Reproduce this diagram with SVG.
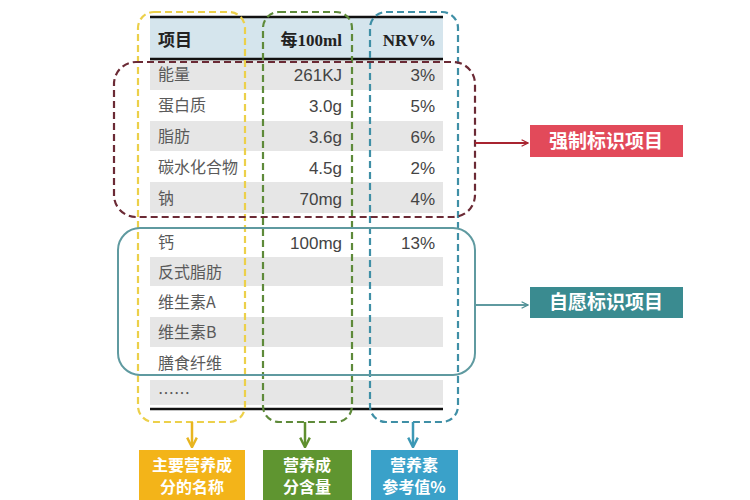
<svg xmlns="http://www.w3.org/2000/svg" width="750" height="500" viewBox="0 0 750 500">
<defs>
<style>
.cn{font-family:"Noto Sans CJK SC","Noto Sans",sans-serif;font-size:16px;fill:#5a5a5a}
.num{font-family:"Liberation Sans","Noto Sans CJK SC",sans-serif;font-size:17px;fill:#444;text-anchor:end}
.hd{font-family:"Liberation Serif","Noto Sans CJK SC",serif;font-size:17px;font-weight:bold;fill:#222}
.gray{fill:#e6e6e6}
.lbl{font-family:"Noto Sans CJK SC",sans-serif;font-size:16px;font-weight:bold;fill:#fff;text-anchor:middle}
.big{font-size:19px}
.dash{fill:none;stroke-width:2.2;stroke-dasharray:7 4}
</style>
<marker id="aR" viewBox="0 0 10 10" refX="9" refY="5" markerWidth="8" markerHeight="8" orient="auto" markerUnits="userSpaceOnUse"><path d="M1,1 L9,5 L1,9" fill="none" stroke="#a82430" stroke-width="1.6"/></marker>
<marker id="aT" viewBox="0 0 10 10" refX="9" refY="5" markerWidth="8" markerHeight="8" orient="auto" markerUnits="userSpaceOnUse"><path d="M1,1 L9,5 L1,9" fill="none" stroke="#4d8e93" stroke-width="1.6"/></marker>
<marker id="aY" viewBox="0 0 10 10" refX="8" refY="5" markerWidth="12" markerHeight="12" orient="auto" markerUnits="userSpaceOnUse"><path d="M1,1 L9,5 L1,9" fill="none" stroke="#e8b520" stroke-width="2"/></marker>
<marker id="aG" viewBox="0 0 10 10" refX="8" refY="5" markerWidth="12" markerHeight="12" orient="auto" markerUnits="userSpaceOnUse"><path d="M1,1 L9,5 L1,9" fill="none" stroke="#5f8f2e" stroke-width="2"/></marker>
<marker id="aB" viewBox="0 0 10 10" refX="8" refY="5" markerWidth="12" markerHeight="12" orient="auto" markerUnits="userSpaceOnUse"><path d="M1,1 L9,5 L1,9" fill="none" stroke="#3c98b5" stroke-width="2"/></marker>
</defs>
<rect width="750" height="500" fill="#fff"/>

<g id="table">
<rect x="150" y="18" width="293" height="41" fill="#d5e5ed"/>
<rect class="gray" x="150" y="59" width="293" height="31"/>
<rect class="gray" x="150" y="121" width="293" height="30"/>
<rect class="gray" x="150" y="182" width="293" height="31"/>
<rect class="gray" x="150" y="257" width="293" height="29"/>
<rect class="gray" x="150" y="317" width="293" height="30"/>
<rect class="gray" x="150" y="380" width="293" height="25"/>
<line x1="150" y1="17" x2="443" y2="17" stroke="#111" stroke-width="2.5"/>
<line x1="150" y1="59" x2="443" y2="59" stroke="#111" stroke-width="2.5"/>
<line x1="150" y1="409" x2="443" y2="409" stroke="#111" stroke-width="2.5"/>
<text class="hd" x="158" y="46" font-family="Noto Sans CJK SC">项目</text>
<text class="hd" x="342" y="46" text-anchor="end">每100ml</text>
<text class="hd" x="436" y="46" text-anchor="end">NRV%</text>
<text class="cn" x="158" y="80">能量</text><text class="num" x="342" y="81">261KJ</text><text class="num" x="435" y="81">3%</text>
<text class="cn" x="158" y="111">蛋白质</text><text class="num" x="342" y="112">3.0g</text><text class="num" x="435" y="112">5%</text>
<text class="cn" x="158" y="142">脂肪</text><text class="num" x="342" y="143">3.6g</text><text class="num" x="435" y="143">6%</text>
<text class="cn" x="158" y="173">碳水化合物</text><text class="num" x="342" y="174">4.5g</text><text class="num" x="435" y="174">2%</text>
<text class="cn" x="158" y="204">钠</text><text class="num" x="342" y="205">70mg</text><text class="num" x="435" y="205">4%</text>
<text class="cn" x="158" y="248">钙</text><text class="num" x="342" y="249">100mg</text><text class="num" x="435" y="249">13%</text>
<text class="cn" x="158" y="278">反式脂肪</text>
<text class="cn" x="158" y="308">维生素A</text>
<text class="cn" x="158" y="338">维生素B</text>
<text class="cn" x="158" y="369">膳食纤维</text>
<text class="cn" x="158" y="399">……</text>
</g>

<g id="col-name"><rect class="dash" x="138" y="12" width="107" height="410" rx="16" stroke="#ecd04a"/></g>
<g id="col-amount"><rect class="dash" x="263" y="12" width="89" height="410" rx="16" stroke="#5e8a3a"/></g>
<g id="col-nrv"><rect class="dash" x="370" y="12" width="88" height="410" rx="16" stroke="#3f8fa6"/></g>
<g id="mandatory-group"><rect class="dash" x="114" y="62" width="361" height="155" rx="22" stroke="#6b2a35"/></g>
<g id="voluntary-group"><rect x="118" y="228" width="357" height="147" rx="22" fill="none" stroke="#5f9aa0" stroke-width="2"/></g>

<g id="connectors">
<line x1="475" y1="143" x2="528" y2="143" stroke="#a82430" stroke-width="2" marker-end="url(#aR)"/>
<line x1="475" y1="305" x2="528" y2="305" stroke="#5f9aa0" stroke-width="2" marker-end="url(#aT)"/>
<line x1="192" y1="422" x2="192" y2="446" stroke="#e8b520" stroke-width="2.5" marker-end="url(#aY)"/>
<line x1="305" y1="422" x2="305" y2="446" stroke="#5f8f2e" stroke-width="2.5" marker-end="url(#aG)"/>
<line x1="413" y1="422" x2="413" y2="446" stroke="#3c98b5" stroke-width="2.5" marker-end="url(#aB)"/>
</g>

<g id="mandatory"><rect x="530" y="125" width="153" height="32" fill="#e24a5a"/><text class="lbl big" x="606" y="148">强制标识项目</text></g>
<g id="voluntary"><rect x="530" y="287" width="153" height="31" fill="#3a8b90"/><text class="lbl big" x="606" y="309">自愿标识项目</text></g>
<g id="name-box"><rect x="139" y="450" width="106" height="50" fill="#f3b419"/><text class="lbl" x="192" y="471">主要营养成</text><text class="lbl" x="192" y="493">分的名称</text></g>
<g id="amount-box"><rect x="263" y="450" width="89" height="50" fill="#5f9530"/><text class="lbl" x="307" y="471">营养成</text><text class="lbl" x="307" y="493">分含量</text></g>
<g id="nrv-box"><rect x="371" y="450" width="87" height="50" fill="#3aa1c9"/><text class="lbl" x="414" y="471">营养素</text><text class="lbl" x="414" y="493">参考值%</text></g>
</svg>
